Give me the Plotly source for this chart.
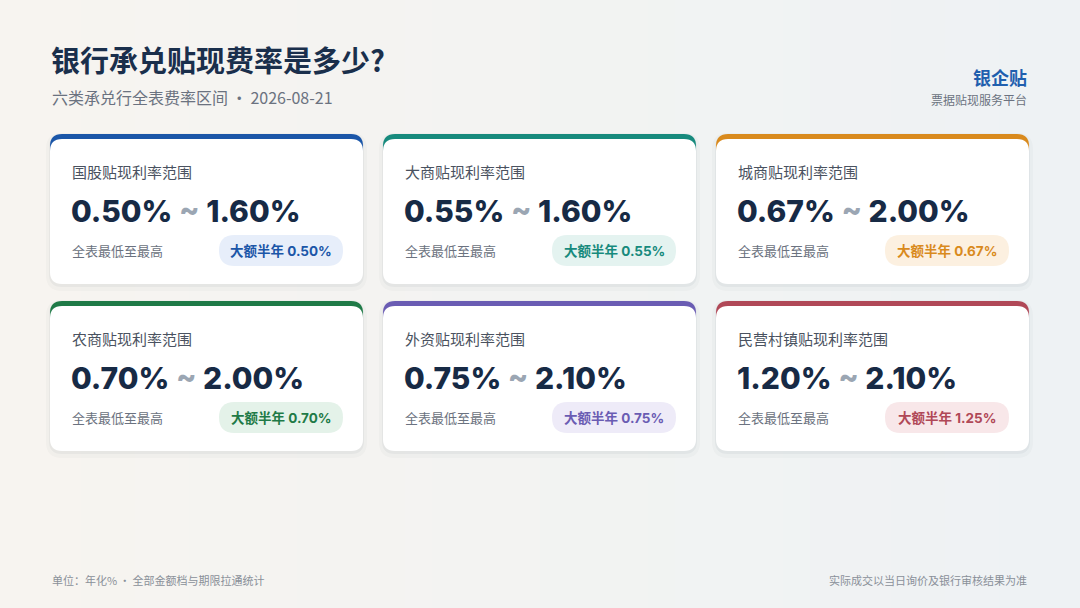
import plotly.graph_objects as go

# card data (annualised %)
categories = ["国股", "大商", "城商", "农商", "外资", "民营村镇"]
rate_low = [0.50, 0.55, 0.67, 0.70, 0.75, 1.20]
rate_high = [1.60, 1.60, 2.00, 2.00, 2.10, 2.10]
large_half_year = [0.50, 0.55, 0.67, 0.70, 0.75, 1.25]

accent = ["#1b56a8", "#178a7d", "#d98a1d", "#1f7a47", "#6a5cb3", "#b04857"]
pill_bg = ["#e7eefa", "#e4f3f0", "#fcf0e0", "#e4f2e9", "#eeebf8", "#f8e7e9"]

W, H = 1080, 608
CJK = "Noto Sans CJK SC"
NUM = "Inter, Noto Sans CJK SC"
DOT = "\u2009·\u2009"


def rrect(x0, y0, x1, y1, r):
    return (f"M{x0 + r},{y0} L{x1 - r},{y0} Q{x1},{y0} {x1},{y0 + r} "
            f"L{x1},{y1 - r} Q{x1},{y1} {x1 - r},{y1} L{x0 + r},{y1} "
            f"Q{x0},{y1} {x0},{y1 - r} L{x0},{y0 + r} Q{x0},{y0} {x0 + r},{y0} Z")


shapes = []
annotations = []

# soft background gradient, warm left to cool right
n_strips = 40
c_left = (247, 244, 240)
c_right = (238, 242, 244)
for i in range(n_strips):
    t = i / (n_strips - 1)
    c = tuple(round(a + (b - a) * t) for a, b in zip(c_left, c_right))
    shapes.append(dict(type="rect", x0=W * i / n_strips, x1=W * (i + 1) / n_strips + 1,
                       y0=0, y1=H, line_width=0, fillcolor=f"rgb{c}", layer="below"))

card_w, card_h = 313, 150
col_x = [50, 383, 716]
row_y = [134, 301]

for i, cat in enumerate(categories):
    x0 = col_x[i % 3]
    y0 = row_y[i // 3]
    x1, y1 = x0 + card_w, y0 + card_h

    # shadow
    shapes.append(dict(type="path", path=rrect(x0 - 4, y0 - 1, x1 + 4, y1 + 7, 16),
                       fillcolor="rgba(20,35,60,0.025)", line_width=0))
    shapes.append(dict(type="path", path=rrect(x0 - 1, y0 + 1, x1 + 1, y1 + 3, 13),
                       fillcolor="rgba(20,35,60,0.045)", line_width=0))
    # accent top + white body
    shapes.append(dict(type="path", path=rrect(x0, y0, x1, y1 - 20, 12),
                       fillcolor=accent[i], line_width=0))
    shapes.append(dict(type="path", path=rrect(x0, y0 + 5, x1, y1, 12),
                       fillcolor="#ffffff", line_width=0))
    # pill
    px1 = x1 - 20
    px0 = px1 - 124
    shapes.append(dict(type="path", path=rrect(px0, y0 + 101, px1, y0 + 132, 15.5),
                       fillcolor=pill_bg[i], line_width=0))

    annotations.append(dict(x=x0 + 20, y=y0 + 37, text=f"{cat}贴现利率范围",
                            xanchor="left", yanchor="middle", showarrow=False,
                            font=dict(family=CJK, size=15, color="#4a5260")))
    annotations.append(dict(x=x0 + 19, y=y0 + 77,
                            text=(f"{rate_low[i]:.2f}%"
                                  f"<span style='color:#9ba6b3'> ~ </span>"
                                  f"{rate_high[i]:.2f}%"),
                            xanchor="left", yanchor="middle", showarrow=False,
                            font=dict(family=NUM, size=30, color="#172a45", weight=800)))
    annotations.append(dict(x=x0 + 20, y=y0 + 116, text="全表最低至最高",
                            xanchor="left", yanchor="middle", showarrow=False,
                            font=dict(family=CJK, size=13, color="#6b7280")))
    annotations.append(dict(x=(px0 + px1) / 2, y=y0 + 116.5,
                            text=f"大额半年 {large_half_year[i]:.2f}%",
                            xanchor="center", yanchor="middle", showarrow=False,
                            font=dict(family=NUM, size=13.5, color=accent[i], weight=700)))

# header
annotations += [
    dict(x=49, y=59, text="银行承兑贴现费率是多少?", xanchor="left", yanchor="middle",
         showarrow=False, font=dict(family=CJK, size=29, color="#1a2f4c", weight=700)),
    dict(x=50, y=97, text=f"六类承兑行全表费率区间{DOT}2026-08-21", xanchor="left",
         yanchor="middle", showarrow=False,
         font=dict(family=CJK, size=16, color="#6b7280")),
    dict(x=1029, y=77, text="银企贴", xanchor="right", yanchor="middle", showarrow=False,
         font=dict(family=CJK, size=18, color="#1f5fae", weight=700)),
    dict(x=1029, y=99, text="票据贴现服务平台", xanchor="right", yanchor="middle",
         showarrow=False, font=dict(family=CJK, size=12, color="#6b7280")),
    # footer
    dict(x=50, y=580, text=f"单位：年化%{DOT}全部金额档与期限拉通统计", xanchor="left",
         yanchor="middle", showarrow=False,
         font=dict(family=CJK, size=11, color="#8a9099")),
    dict(x=1029, y=580, text="实际成交以当日询价及银行审核结果为准", xanchor="right",
         yanchor="middle", showarrow=False,
         font=dict(family=CJK, size=11, color="#8a9099")),
    # faint watermark
    dict(x=540, y=300, text="银企贴 · 票据贴现服务", textangle=-24, xanchor="center",
         yanchor="middle", showarrow=False,
         font=dict(family=CJK, size=42, color="rgba(40,60,90,0.025)", weight=700)),
]

fig = go.Figure(go.Scatter(x=[0], y=[0], mode="markers", marker=dict(opacity=0),
                           hoverinfo="skip", showlegend=False))
fig.update_layout(
    width=W, height=H, autosize=False,
    margin=dict(l=0, r=0, t=0, b=0),
    paper_bgcolor="#f3f3f2", plot_bgcolor="rgba(0,0,0,0)",
    xaxis=dict(range=[0, W], visible=False, fixedrange=True),
    yaxis=dict(range=[H, 0], visible=False, fixedrange=True),
    shapes=shapes, annotations=annotations, showlegend=False,
)

fig.write_html("out.html", config=dict(displayModeBar=False),
               post_script="document.body.style.margin='0';")
